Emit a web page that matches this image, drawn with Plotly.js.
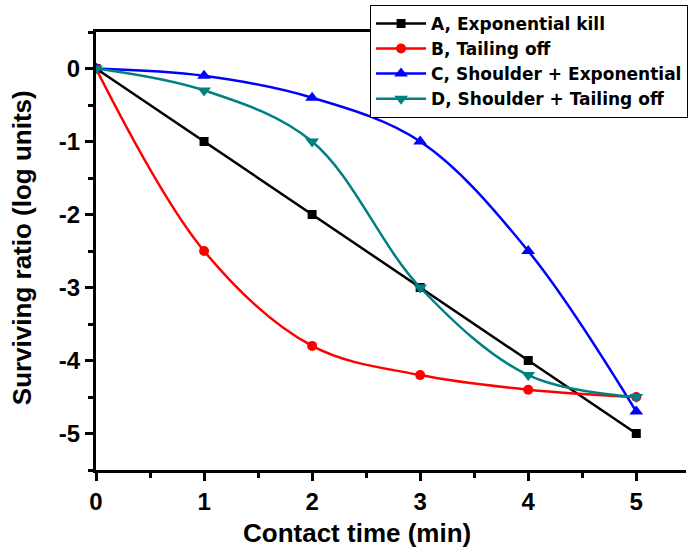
<!DOCTYPE html>
<html><head><meta charset="utf-8">
<script src="https://cdn.plot.ly/plotly-3.0.1.min.js"></script>
<style>html,body{margin:0;padding:0;background:#fff}#chart{width:689px;height:552px}</style>
</head><body><div id="chart"></div>
<script>
var times = [0, 1, 2, 3, 4, 5];
var seriesA = [0, -1, -2, -3, -4, -5];
var seriesB = [0, -2.5, -3.8, -4.2, -4.4, -4.5];
var seriesC = [0, -0.1, -0.4, -1, -2.5, -4.7];
var seriesD = [0, -0.3, -1, -3, -4.2, -4.5];
var names = ['A, Exponential kill', 'B, Tailing off', 'C, Shoulder + Exponential', 'D, Shoulder + Tailing off'];
var xTicks = [0, 1, 2, 3, 4, 5];
var yTicks = [0, -1, -2, -3, -4, -5];
var xTitle = 'Contact time (min)';
var yTitle = 'Surviving ratio (log units)';

var colors = ['#000000', '#ff0000', '#0000ff', '#008080'];
var symbols = ['square', 'circle', 'triangle-up', 'triangle-down'];
var sizes = [9, 10, 12, 12];
var shapes = ['linear', 'spline', 'spline', 'spline'];
var all = [seriesA, seriesB, seriesC, seriesD];

var traces = all.map(function (s, i) {
  return {
    x: times, y: s, name: names[i], type: 'scatter', mode: 'lines+markers',
    line: {color: colors[i], width: 2.5, shape: shapes[i], smoothing: 1},
    marker: {color: colors[i], symbol: symbols[i], size: sizes[i]}
  };
});

var fam = 'Liberation Sans, Arial, sans-serif';
var tickFont = {family: fam, size: 24, color: '#000', weight: 'bold'};
var titleFont = {family: fam, size: 26, color: '#000', weight: 'bold'};
var layout = {
  width: 689, height: 552,
  margin: {l: 96, r: 1, t: 32, b: 82},
  paper_bgcolor: '#fff', plot_bgcolor: '#fff',
  showlegend: true,
  legend: {
    x: 0.4645, y: 1.062, xanchor: 'left', yanchor: 'top',
    bgcolor: '#fff', bordercolor: '#000', borderwidth: 1,
    font: {family: 'DejaVu Sans, sans-serif', size: 17, color: '#000', weight: 'bold'},
    itemwidth: 50, tracegroupgap: 0
  },
  xaxis: {
    range: [0, 5.46], tickvals: xTicks, ticktext: xTicks.map(String),
    ticks: 'outside', ticklen: 8, tickwidth: 3, tickcolor: '#000',
    showline: true, linewidth: 3, linecolor: '#000', mirror: true,
    showgrid: false, zeroline: false, tickfont: tickFont,
    minor: {dtick: 0.5, ticks: 'outside', ticklen: 5, tickwidth: 3, tickcolor: '#000'}
  },
  yaxis: {
    range: [-5.5, 0.5], tickvals: yTicks, ticktext: yTicks.map(String),
    ticks: 'outside', ticklen: 8, tickwidth: 3, tickcolor: '#000',
    showline: true, linewidth: 3, linecolor: '#000',
    showgrid: false, zeroline: false, tickfont: tickFont,
    minor: {dtick: 0.5, ticks: 'outside', ticklen: 5, tickwidth: 3, tickcolor: '#000'}
  },
  annotations: [
    {text: xTitle, xref: 'paper', yref: 'paper', x: 0.443, y: -0.144, xanchor: 'center', yanchor: 'middle', showarrow: false, font: titleFont},
    {text: yTitle, xref: 'paper', yref: 'paper', x: -0.125, y: 0.507, xanchor: 'center', yanchor: 'middle', textangle: -90, showarrow: false, font: titleFont}
  ]
};
Plotly.newPlot('chart', traces, layout, {displayModeBar: false, staticPlot: true});
</script></body></html>
